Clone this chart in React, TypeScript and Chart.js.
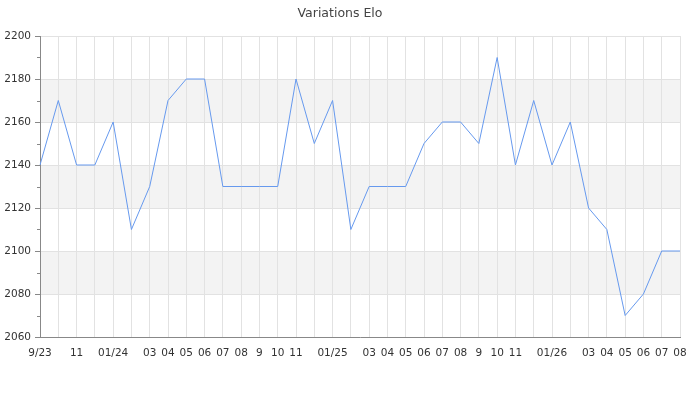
import React, { useEffect, useRef } from "react";
import { Chart, registerables } from "chart.js";

Chart.register(...registerables);

const months = [
  "9/23", "", "11", "", "01/24", "", "03", "04", "05", "06", "07", "08",
  "9", "10", "11", "", "01/25", "", "03", "04", "05", "06", "07", "08",
  "9", "10", "11", "", "01/26", "", "03", "04", "05", "06", "07", "08",
];

const elo = [
  2140, 2170, 2140, 2140, 2160, 2110, 2130, 2170, 2180, 2180, 2130, 2130,
  2130, 2130, 2180, 2150, 2170, 2110, 2130, 2130, 2130, 2150, 2160, 2160,
  2150, 2190, 2140, 2170, 2140, 2160, 2120, 2110, 2070, 2080, 2100, 2100,
];

const yMin = 2060;
const yMax = 2200;
const yStep = 20;
const minorStep = 10;
const shadedBands: [number, number][] = [
  [2160, 2180],
  [2120, 2140],
  [2080, 2100],
];

const bandsPlugin = {
  id: "bands",
  beforeDraw(chart: any) {
    const { ctx, chartArea, scales } = chart;
    const y = scales.y;
    ctx.save();
    ctx.fillStyle = "#f3f3f3";
    for (const [a, b] of shadedBands) {
      const top = y.getPixelForValue(b);
      const bot = y.getPixelForValue(a);
      ctx.fillRect(chartArea.left, top, chartArea.right - chartArea.left, bot - top);
    }
    ctx.restore();
  },
  afterDraw(chart: any) {
    const { ctx, scales } = chart;
    const y = scales.y;
    ctx.save();
    ctx.strokeStyle = "#888888";
    ctx.lineWidth = 1;
    for (let v = yMin + minorStep; v < yMax; v += yStep) {
      const py = Math.round(y.getPixelForValue(v)) + 0.5;
      ctx.beginPath();
      ctx.moveTo(y.right - 3, py);
      ctx.lineTo(y.right, py);
      ctx.stroke();
    }
    ctx.restore();
  },
};

export default function App() {
  const ref = useRef<HTMLCanvasElement>(null);
  useEffect(() => {
    document.body.style.margin = "0";
    const chart = new Chart(ref.current!, {
      type: "line",
      data: {
        labels: months,
        datasets: [
          {
            data: elo,
            borderColor: "#6699ee",
            borderWidth: 1,
            pointRadius: 0,
            tension: 0,
            fill: false,
          },
        ],
      },
      options: {
        animation: false,
        responsive: false,
        maintainAspectRatio: false,
        layout: { padding: { left: 0, right: 20, top: 0, bottom: 0 } },
        plugins: {
          legend: { display: false },
          tooltip: { enabled: false },
          title: {
            display: true,
            text: "Variations Elo",
            color: "#444444",
            font: { family: "DejaVu Sans", size: 12.5, weight: "normal" },
            padding: { top: 6, bottom: 15 },
          },
        },
        scales: {
          x: {
            offset: false,
            grid: { color: "#e2e2e2", drawTicks: false },
            border: { color: "#888888" },
            ticks: {
              autoSkip: false,
              maxRotation: 0,
              minRotation: 0,
              padding: 10,
              color: "#333333",
              font: { family: "DejaVu Sans", size: 10.5 },
            },
            afterFit(scale: any) {
              scale.height = 63;
            },
          },
          y: {
            min: yMin,
            max: yMax,
            grid: { color: "#e2e2e2", tickLength: 5, tickColor: "#888888" },
            border: { color: "#888888" },
            ticks: {
              stepSize: yStep,
              padding: 4,
              color: "#333333",
              font: { family: "DejaVu Sans", size: 10.5 },
              callback: (v: any) => String(v),
            },
            afterFit(scale: any) {
              scale.width = 40;
            },
          },
        },
      },
      plugins: [bandsPlugin],
    });
    return () => chart.destroy();
  }, []);
  return (
    <div style={{ position: "absolute", left: 0, top: 0, width: 700, height: 400 }}>
      <canvas ref={ref} width={700} height={400} style={{ width: 700, height: 400 }} />
    </div>
  );
}
